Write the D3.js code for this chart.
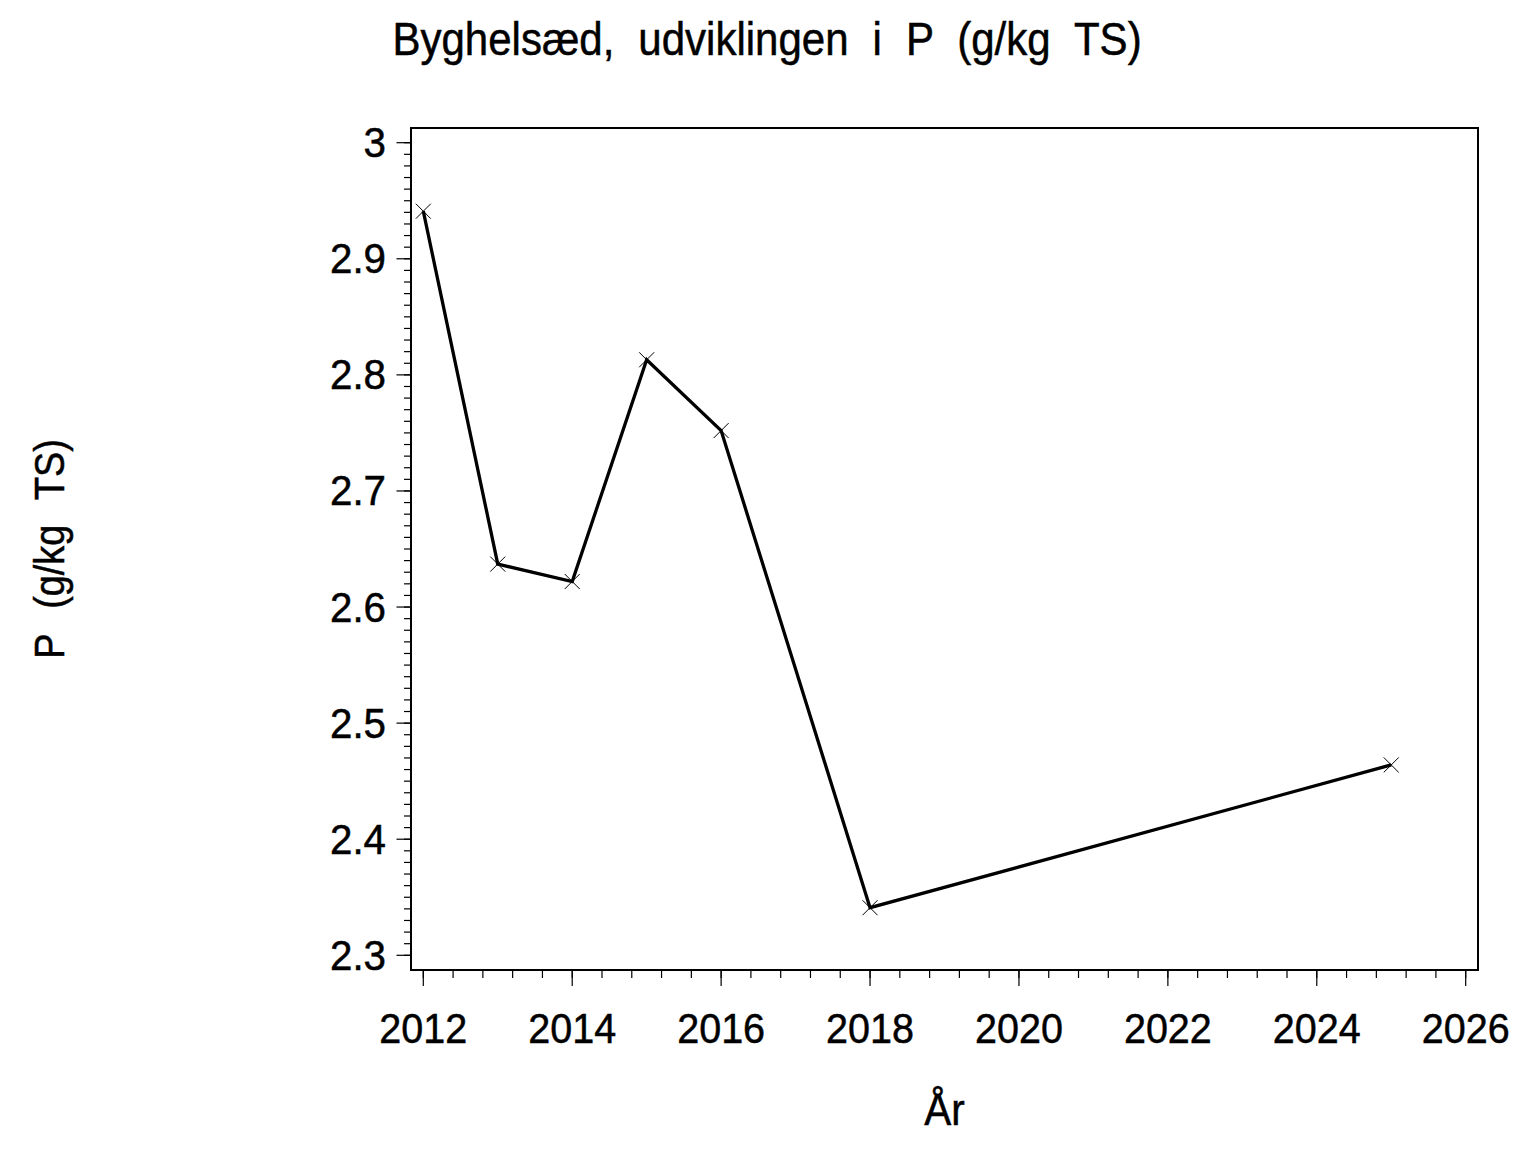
<!DOCTYPE html>
<html>
<head>
<meta charset="utf-8">
<script src="https://cdn.jsdelivr.net/npm/d3@7"></script>
<style>
  html, body { margin: 0; padding: 0; background: #fff; }
  svg { display: block; }
  text { font-family: "Liberation Sans", Arial, Helvetica, sans-serif; fill: #000; stroke: #000; stroke-width: 0.5; white-space: pre; }
</style>
</head>
<body>
<svg id="chart" width="1536" height="1152"></svg>
<script>
// ---- data ----
const years = [2012, 2013, 2014, 2015, 2016, 2018, 2025];
const pValues = [2.941, 2.637, 2.622, 2.813, 2.752, 2.341, 2.464];
const xTickValues = [2012, 2014, 2016, 2018, 2020, 2022, 2024, 2026];
const yTickValues = [2.3, 2.4, 2.5, 2.6, 2.7, 2.8, 2.9, 3.0];
const yTickLabels = ["2.3", "2.4", "2.5", "2.6", "2.7", "2.8", "2.9", "3"];
const titleText = "Byghelsæd, udviklingen i P (g/kg TS)";
const xTitle = "År";
const yTitle = "P (g/kg TS)";

// ---- layout ----
const W = 1536, H = 1152;
const box = { left: 411, right: 1478, top: 128, bottom: 970 };
const svg = d3.select("#chart");
svg.append("rect").attr("width", W).attr("height", H).attr("fill", "#fff");

const x = d3.scaleLinear().domain([2012, 2026]).range([423.3, 1465.7]);
const y = d3.scaleLinear().domain([2.3, 3.0]).range([955.3, 142.7]);

// frame
svg.append("rect")
  .attr("x", box.left).attr("y", box.top)
  .attr("width", box.right - box.left).attr("height", box.bottom - box.top)
  .attr("fill", "none").attr("stroke", "#000").attr("stroke-width", 1.3)
  .attr("shape-rendering", "crispEdges");

// y ticks
const yMinor = d3.range(230, 301).map(v => v / 100);
svg.append("g").selectAll("line").data(yMinor).join("line")
  .attr("x1", box.left - 7).attr("x2", box.left)
  .attr("y1", d => y(d)).attr("y2", d => y(d))
  .attr("stroke", "#000").attr("stroke-width", 1.2);
svg.append("g").selectAll("line").data(yTickValues).join("line")
  .attr("x1", box.left - 14.5).attr("x2", box.left)
  .attr("y1", d => y(d)).attr("y2", d => y(d))
  .attr("stroke", "#000").attr("stroke-width", 1.2);
svg.append("g").selectAll("text").data(yTickValues).join("text")
  .attr("transform", d => `translate(386,${y(d) + 14.5}) scale(0.96,1)`)
  .attr("text-anchor", "end").attr("font-size", 42)
  .text((d, i) => yTickLabels[i]);

// x ticks
const xMinor = d3.range(0, 36).map(i => 2012 + i * 0.4);
svg.append("g").selectAll("line").data(xMinor).join("line")
  .attr("x1", d => x(d)).attr("x2", d => x(d))
  .attr("y1", box.bottom).attr("y2", box.bottom + 8)
  .attr("stroke", "#000").attr("stroke-width", 1.2);
svg.append("g").selectAll("line").data(xTickValues).join("line")
  .attr("x1", d => x(d)).attr("x2", d => x(d))
  .attr("y1", box.bottom).attr("y2", box.bottom + 16)
  .attr("stroke", "#000").attr("stroke-width", 1.2);
svg.append("g").selectAll("text").data(xTickValues).join("text")
  .attr("transform", d => `translate(${x(d)},1043) scale(0.92,1)`)
  .attr("text-anchor", "middle").attr("font-size", 43)
  .text(d => d);

// line
const pts = years.map((yr, i) => [yr, pValues[i]]);
svg.append("path")
  .datum(pts)
  .attr("d", d3.line().x(d => x(d[0])).y(d => y(d[1])))
  .attr("fill", "none").attr("stroke", "#000").attr("stroke-width", 3.3)
  .attr("stroke-linejoin", "miter");

// markers (X)
const m = 7.5;
svg.append("g").selectAll("path").data(pts).join("path")
  .attr("d", d => {
    const cx = x(d[0]), cy = y(d[1]);
    return `M${cx - m},${cy - m}L${cx + m},${cy + m}M${cx - m},${cy + m}L${cx + m},${cy - m}`;
  })
  .attr("stroke", "#000").attr("stroke-width", 1).attr("fill", "none");

// titles
svg.append("text")
  .attr("transform", `translate(767,55) scale(0.914,1)`)
  .attr("text-anchor", "middle").attr("font-size", 46)
  .attr("word-spacing", 13.5)
  .text(titleText);

svg.append("text")
  .attr("transform", `translate(${(box.left + box.right) / 2},1125) scale(0.92,1)`)
  .attr("text-anchor", "middle").attr("font-size", 44)
  .text(xTitle);

svg.append("text")
  .attr("transform", `translate(64,${(box.top + box.bottom) / 2}) rotate(-90) scale(0.9,1)`)
  .attr("text-anchor", "middle").attr("font-size", 42)
  .attr("word-spacing", 16.6)
  .text(yTitle);
</script>
</body>
</html>
